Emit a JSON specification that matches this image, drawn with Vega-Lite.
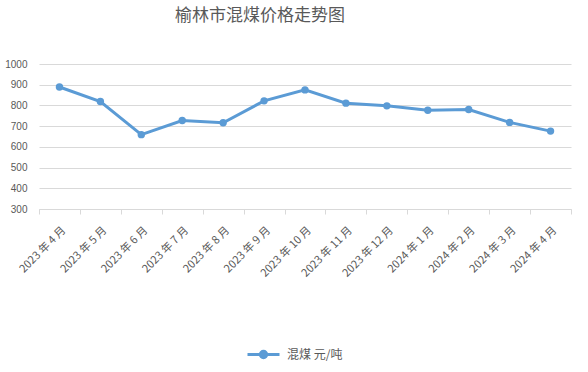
{
  "$schema": "https://vega.github.io/schema/vega-lite/v6.json",
  "width": 532,
  "height": 145,
  "autosize": {"type": "none"},
  "padding": {"left": 39, "top": 64, "right": 17, "bottom": 163},
  "background": "#ffffff",
  "title": {
    "text": "榆林市混煤价格走势图",
    "font": "Noto Sans CJK SC",
    "fontSize": 17,
    "fontWeight": "normal",
    "color": "#595959",
    "anchor": "middle",
    "dx": -45,
    "offset": 34
  },
  "config": {"view": {"stroke": null}},
  "data": {
    "values": [
      {"month": "2023 年 4 月", "price": 889, "series": "混煤 元/吨"},
      {"month": "2023 年 5 月", "price": 819, "series": "混煤 元/吨"},
      {"month": "2023 年 6 月", "price": 659, "series": "混煤 元/吨"},
      {"month": "2023 年 7 月", "price": 727, "series": "混煤 元/吨"},
      {"month": "2023 年 8 月", "price": 716, "series": "混煤 元/吨"},
      {"month": "2023 年 9 月", "price": 822, "series": "混煤 元/吨"},
      {"month": "2023 年 10 月", "price": 875, "series": "混煤 元/吨"},
      {"month": "2023 年 11 月", "price": 811, "series": "混煤 元/吨"},
      {"month": "2023 年 12 月", "price": 798, "series": "混煤 元/吨"},
      {"month": "2024 年 1 月", "price": 777, "series": "混煤 元/吨"},
      {"month": "2024 年 2 月", "price": 780, "series": "混煤 元/吨"},
      {"month": "2024 年 3 月", "price": 718, "series": "混煤 元/吨"},
      {"month": "2024 年 4 月", "price": 676, "series": "混煤 元/吨"}
    ]
  },
  "mark": {
    "type": "line",
    "strokeWidth": 3,
    "point": {"filled": true, "size": 55}
  },
  "encoding": {
    "x": {
      "field": "month",
      "type": "nominal",
      "sort": null,
      "scale": {"paddingInner": 0, "paddingOuter": 0},
      "axis": {
        "title": null,
        "labelAngle": -45,
        "labelFont": "Noto Sans CJK SC",
        "labelFontSize": 11,
        "labelColor": "#595959",
        "labelPadding": 10,
        "tickBand": "extent",
        "ticks": true,
        "tickSize": 5,
        "tickColor": "#D9D9D9",
        "domainColor": "#D9D9D9",
        "grid": false
      }
    },
    "y": {
      "field": "price",
      "type": "quantitative",
      "scale": {"domain": [300, 1000], "nice": false, "zero": false},
      "axis": {
        "title": null,
        "values": [300, 400, 500, 600, 700, 800, 900, 1000],
        "format": "d",
        "domain": false,
        "ticks": false,
        "labelPadding": 12,
        "labelFont": "Liberation Sans",
        "labelFontSize": 10,
        "labelColor": "#595959",
        "gridColor": "#D9D9D9",
        "gridWidth": 1
      }
    },
    "color": {
      "field": "series",
      "type": "nominal",
      "scale": {"range": ["#5B9BD5"]},
      "legend": {
        "title": null,
        "orient": "none",
        "legendX": 207,
        "legendY": 273,
        "symbolType": "M-1,0H1M-0.2,0A0.2,0.2 0 1,1 0.2,0A0.2,0.2 0 1,1 -0.2,0Z",
        "symbolSize": 1024,
        "symbolStrokeWidth": 3,
        "symbolFillColor": "#5B9BD5",
        "symbolStrokeColor": "#5B9BD5",
        "labelFont": "Noto Sans CJK SC",
        "labelFontSize": 12,
        "labelColor": "#595959",
        "labelOffset": 6
      }
    }
  }
}
